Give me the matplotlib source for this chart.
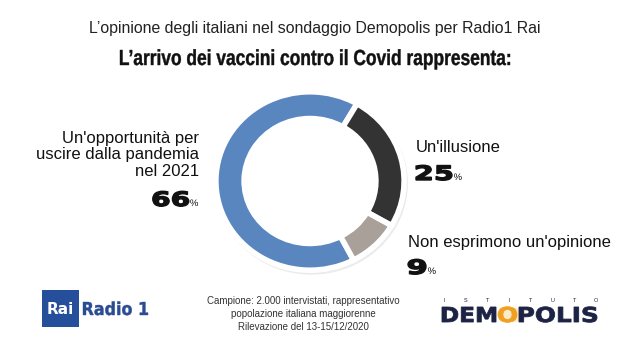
import numpy as np
import matplotlib
matplotlib.use('Agg')
import matplotlib.pyplot as plt
from matplotlib.patches import Rectangle, Circle, PathPatch
from matplotlib.textpath import TextPath
from matplotlib.font_manager import FontProperties
from matplotlib.transforms import Affine2D

# dati del sondaggio
labels = ["Un'opportunità per\nuscire dalla pandemia\nnel 2021", "Un'illusione", "Non esprimono un'opinione"]
values = [66, 25, 9]
colors = ['#5a86bf', '#333333', '#a9a199']

title_top = "L’opinione degli italiani nel sondaggio Demopolis per Radio1 Rai"
title_main = "L’arrivo dei vaccini contro il Covid rappresenta:"
footer = "Campione: 2.000 intervistati, rappresentativo\npopolazione italiana maggiorenne\nRilevazione del 13-15/12/2020"

W, H = 630, 345
fig = plt.figure(figsize=(W / 100, H / 100), dpi=100)
fig.patch.set_facecolor('white')


def px(x, y):
    return x / W, 1 - y / H


sans = ['Liberation Sans', 'DejaVu Sans']


def path_text(x, base, s, cap, width=None, family='DejaVu Sans', weight='bold',
              color='#111111', ha='left', stroke=0.0):
    # testo come tracciato, per poterlo stringere o allargare
    fp = FontProperties(family=family, weight=weight)
    tp = TextPath((0, 0), s, size=100, prop=fp)
    capref = TextPath((0, 0), 'H', size=100, prop=fp).get_extents().height
    bb = tp.get_extents()
    sy = cap / capref
    sx = width / bb.width if width else sy
    if ha == 'left':
        ox = x - bb.x0 * sx
    elif ha == 'right':
        ox = x - bb.x1 * sx
    else:
        ox = x - (bb.x0 + bb.x1) / 2 * sx
    tr = Affine2D().scale(sx / W, sy / H).translate(ox / W, (H - base) / H)
    p = PathPatch(tr.transform_path(tp), facecolor=color,
                  edgecolor=color if stroke else 'none', lw=stroke,
                  transform=fig.transFigure)
    fig.patches.append(p)
    return ox + bb.x0 * sx, ox + bb.x1 * sx


# titoli
fig.text(*px(315, 28), title_top, ha='center', va='center', fontsize=11.4, family=sans, color='#222222')
path_text(315, 65, title_main, 15, width=390, family='Liberation Sans', weight='bold',
          color='#111111', ha='center', stroke=0.3)

# ciambella
ax = fig.add_axes([214 / W, 1 - 272 / H, 192 / W, 182 / H])
# ombra leggera
ax.pie([1], radius=1.025, colors=['#ebebeb'], wedgeprops=dict(width=0.29, edgecolor='none'),
       center=(0.015, -0.025))
ax.pie(values, colors=colors, startangle=297.6, counterclock=False,
       wedgeprops=dict(width=0.3, edgecolor='white', linewidth=4))
ax.set_aspect('auto')
ax.set_xlim(-1.02, 1.02)
ax.set_ylim(-1.02, 1.02)
ax.axis('off')

# etichette
fig.text(*px(199, 155), labels[0], ha='right', va='center', fontsize=12, family=sans,
         color='#111111', linespacing=1.12)
fig.text(*px(416, 147), labels[1], ha='left', va='center', fontsize=12, family=sans, color='#111111')
fig.text(*px(408, 242), labels[2], ha='left', va='center', fontsize=12, family=sans, color='#111111')


def percent(x, base, val, align):
    # numero grosso + simbolo % piccolo
    n = str(val)
    w = 18 * len(n)
    if align == 'right':
        x0, x1 = path_text(x, base, '%', 6.5, family='Liberation Sans', weight='normal', ha='right')
        path_text(x0 - 1.5, base, n, 14.5, width=w, ha='right', stroke=1.0)
    else:
        x0, x1 = path_text(x, base, n, 14.5, width=w, ha='left', stroke=1.0)
        path_text(x1 + 2, base, '%', 6.5, family='Liberation Sans', weight='normal', ha='left')


percent(198, 206, values[0], 'right')
percent(416, 180, values[1], 'left')
percent(408, 274, values[2], 'left')

# nota metodologica
fig.text(*px(303, 314), footer, ha='center', va='center', fontsize=7, family=sans,
         color='#333333', linespacing=1.35)

# logo Rai Radio 1
fig.patches.append(Rectangle(px(42, 327), 37 / W, 37 / H, transform=fig.transFigure,
                             facecolor='#254f9b', edgecolor='none'))
fig.text(*px(60.5, 309), 'Rai', ha='center', va='center', fontsize=11, family='DejaVu Sans',
         fontweight='bold', color='white')
path_text(83, 315, 'Radio 1', 13, width=65, color='#2a4c93', stroke=0.3)

# logo Demopolis
navy = '#1d2344'
letters = 'ISTITUTO'
for i, ch in enumerate(letters):
    fig.text(*px(444 + i * 21.7, 301), ch, ha='center', va='center', fontsize=4, family=sans, color=navy)
fig.patches.append(Circle(px(514, 315), 0.02, transform=fig.transFigure,
                          facecolor='#f7c46a', edgecolor='none', alpha=0.35))
x0 = 442
for part, col, wd in [('DEM', navy, 54), ('O', '#f0a020', 19), ('POLIS', navy, 78)]:
    x0, x1 = path_text(x0, 322, part, 15, width=wd, color=col, stroke=0.6)
    x0 = x1 + 2

fig.savefig('out.png', dpi=100, facecolor='white')
